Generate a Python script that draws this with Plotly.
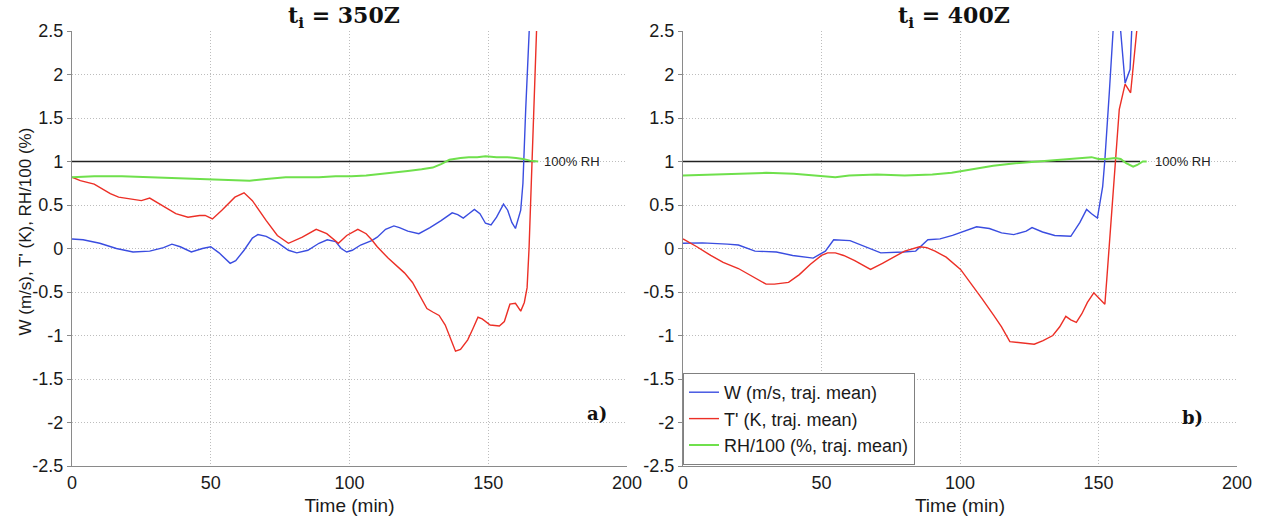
import plotly.graph_objects as go

# ---- panel a) t_i = 350Z ----
a_w_t = [0, 4, 10, 16, 22, 28, 33, 36, 39, 43, 47, 50, 53, 57, 59, 62, 65, 67, 70, 74,
         78, 81, 85, 89, 92, 95, 97, 99, 101, 104, 108, 110, 113, 116, 118, 121, 125, 129,
         133, 137, 139, 141, 143, 145, 147, 149, 151, 153, 155.5, 157, 158.5, 159.8, 161.7,
         162.5, 163.5, 164.8, 165.6]
a_w_v = [0.11, 0.10, 0.06, 0.0, -0.04, -0.03, 0.01, 0.05, 0.02, -0.04, 0.0, 0.02, -0.05,
         -0.17, -0.14, -0.02, 0.12, 0.16, 0.14, 0.07, -0.02, -0.05, -0.02, 0.06, 0.10, 0.08,
         0.0, -0.04, -0.02, 0.04, 0.09, 0.13, 0.22, 0.26, 0.24, 0.20, 0.17, 0.24, 0.32, 0.41,
         0.39, 0.35, 0.40, 0.45, 0.40, 0.29, 0.27, 0.36, 0.51, 0.44, 0.30, 0.23, 0.44,
         0.75, 1.6, 2.5, 3.1]

a_t_t = [0, 3, 8, 11, 13.8, 16.8, 21, 25, 28, 30.5, 33, 37.4, 41.8, 46, 48, 50.6, 54, 58.7,
         62, 65, 70, 74, 78, 83, 88, 91.8, 96, 99, 103, 106, 108, 110, 113.9, 119.8, 122.7,
         125.7, 127.9, 130, 132.3, 134.5, 136, 138.2, 140, 142.6, 144.5, 146.3, 147.8, 150.7,
         154, 155.8, 157.8, 159.8, 161.7, 163, 164, 164.7, 167.4, 168.1]
a_t_v = [0.82, 0.78, 0.74, 0.68, 0.63, 0.59, 0.57, 0.55, 0.58, 0.53, 0.48, 0.40, 0.36, 0.38,
         0.38, 0.34, 0.44, 0.59, 0.64, 0.55, 0.32, 0.15, 0.06, 0.13, 0.22, 0.17, 0.06, 0.15,
         0.22, 0.17, 0.10, 0.02, -0.11, -0.28, -0.39, -0.56, -0.69, -0.73, -0.77, -0.88,
         -1.01, -1.18, -1.16, -1.05, -0.92, -0.79, -0.81, -0.88, -0.89, -0.84, -0.64, -0.63,
         -0.72, -0.62, -0.45, 0.0, 2.5, 3.1]

a_rh_t = [0, 8, 18, 27, 36, 44, 50.6, 57, 64, 70, 77, 83, 89, 95, 100.7, 106, 112, 117,
          121, 126, 130, 133, 136, 140, 143, 146, 149, 153, 157, 160, 162.5, 165, 168]
a_rh_v = [0.82, 0.83, 0.83, 0.82, 0.81, 0.80, 0.80, 0.79, 0.78, 0.80, 0.82, 0.82, 0.82,
          0.83, 0.83, 0.84, 0.86, 0.87, 0.89, 0.91, 0.93, 0.97, 1.02, 1.04, 1.05, 1.05,
          1.06, 1.05, 1.05, 1.04, 1.03, 1.01, 1.0]

# ---- panel b) t_i = 400Z ----
b_w_t = [0, 7, 16, 20, 26, 33.7, 39.6, 47, 51.4, 54.4, 60.3, 66.2, 71.4, 79.5, 84, 88.4,
         92.8, 97.3, 101.7, 106, 110.6, 115, 119.4, 123.9, 126, 129.8, 134.2, 140, 143.3,
         145.7, 147.5, 149.6, 151.5, 152.3, 153.9, 155.3, 156.8, 158, 159.6, 161.4, 162,
         162.9]
b_w_v = [0.06, 0.065, 0.05, 0.04, -0.03, -0.04, -0.08, -0.11, -0.03, 0.10, 0.09, 0.02,
         -0.05, -0.04, -0.03, 0.10, 0.11, 0.15, 0.20, 0.25, 0.23, 0.18, 0.16, 0.20, 0.24,
         0.19, 0.15, 0.14, 0.30, 0.45, 0.40, 0.35, 0.71, 1.02, 1.79, 2.5, 3.3, 2.5, 1.90,
         2.06, 2.5, 3.2]

b_t_t = [0, 5, 10, 14.5, 20, 25, 30, 33, 38.1, 42, 46, 50, 52.2, 55, 58, 62, 65, 67.7, 72,
         76, 80, 85.4, 88, 91, 95, 100.2, 104, 108, 112, 115, 118, 122, 126.8, 130, 133.5,
         136, 138.2, 140, 142, 144, 146, 148.3, 150, 152.3, 153, 154.5, 156.3, 157.5, 159.6,
         161.6, 163.8, 164.5]
b_t_v = [0.11, 0.02, -0.08, -0.16, -0.23, -0.32, -0.41, -0.41, -0.39, -0.30, -0.18, -0.08,
         -0.05, -0.05, -0.08, -0.14, -0.19, -0.24, -0.17, -0.10, -0.03, 0.02, 0.01, -0.03,
         -0.10, -0.24, -0.40, -0.58, -0.76, -0.90, -1.07, -1.08, -1.10, -1.06, -1.0, -0.90,
         -0.78, -0.82, -0.85, -0.75, -0.62, -0.51, -0.57, -0.64, -0.35, 0.3, 1.02, 1.60, 1.89,
         1.79, 2.5, 2.95]

b_rh_t = [0, 10, 20, 30, 40, 50, 55, 60, 70, 80, 90, 97, 105, 112, 120, 128, 135, 142,
          147.5, 150, 153, 156, 158, 160, 162.5, 164, 166, 167.4]
b_rh_v = [0.84, 0.85, 0.86, 0.87, 0.86, 0.83, 0.82, 0.84, 0.85, 0.84, 0.85, 0.87, 0.91,
          0.95, 0.98, 1.0, 1.02, 1.04, 1.05, 1.03, 1.03, 1.04, 1.03, 0.98, 0.94, 0.96, 1.0,
          1.0]

# saturation reference line (100% RH) extents
a_ref_t = [0, 167]
b_ref_t = [0, 165]
ref_v = [1, 1]

y_ticks = [-2.5, -2, -1.5, -1, -0.5, 0, 0.5, 1, 1.5, 2, 2.5]
y_tick_text = ["-2.5", "-2", "-1.5", "-1", "-0.5", "0", "0.5", "1", "1.5", "2", "2.5"]
x_ticks = [0, 50, 100, 150, 200]

series_names = ["W (m/s, traj. mean)", "T' (K, traj. mean)", "RH/100 (%, traj. mean)"]
BLUE, RED, GREEN = "#3a4de0", "#ec2f26", "#6fe04c"

W, H = 1261, 520
def px_x(p):
    return p / W
def px_y(p):
    return 1 - p / H

fig = go.Figure()

panels = [
    ("x", "y", a_w_t, a_w_v, a_t_t, a_t_v, a_rh_t, a_rh_v, a_ref_t, False),
    ("x2", "y2", b_w_t, b_w_v, b_t_t, b_t_v, b_rh_t, b_rh_v, b_ref_t, True),
]
for xa, ya, wt, wv, tt, tv, rt, rv, reft, legend in panels:
    fig.add_trace(go.Scatter(x=reft, y=ref_v, mode="lines", xaxis=xa, yaxis=ya,
                             line=dict(color="#222222", width=1.3), showlegend=False,
                             hoverinfo="skip"))
    fig.add_trace(go.Scatter(x=wt, y=wv, mode="lines", name=series_names[0], xaxis=xa,
                             yaxis=ya, line=dict(color=BLUE, width=1.4), showlegend=legend))
    fig.add_trace(go.Scatter(x=tt, y=tv, mode="lines", name=series_names[1], xaxis=xa,
                             yaxis=ya, line=dict(color=RED, width=1.4), showlegend=legend))
    fig.add_trace(go.Scatter(x=rt, y=rv, mode="lines", name=series_names[2], xaxis=xa,
                             yaxis=ya, line=dict(color=GREEN, width=2), showlegend=legend))

SANS = "Liberation Sans, Arial, sans-serif"
TICK_FONT = dict(family=SANS, size=18, color="#1a1a1a")
XTITLE_FONT = dict(family=SANS, size=19, color="#1a1a1a")
axis_common = dict(showline=True, linecolor="#8a8a8a", linewidth=1.2, mirror=False,
                   showgrid=True, gridcolor="#bdbdbd", griddash="1px,2px", gridwidth=1,
                   zeroline=False, tickfont=TICK_FONT, automargin=False)

xcommon = dict(axis_common, range=[0, 200], tickmode="array", tickvals=x_ticks,
               ticks="", title=dict(text="Time (min)", font=XTITLE_FONT, standoff=6))
ycommon = dict(axis_common, range=[-2.5, 2.5], tickmode="array", tickvals=y_ticks,
               ticktext=y_tick_text, ticks="outside", ticklen=4, tickcolor="#8a8a8a")

fig.update_layout(
    width=W, height=H,
    margin=dict(l=0, r=0, t=0, b=0, autoexpand=False),
    paper_bgcolor="white", plot_bgcolor="white",
    xaxis=dict(xcommon, domain=[px_x(72), px_x(627)], anchor="y"),
    yaxis=dict(ycommon, domain=[px_y(466), px_y(31)], anchor="x"),
    xaxis2=dict(xcommon, domain=[px_x(683), px_x(1237)], anchor="y2"),
    yaxis2=dict(ycommon, domain=[px_y(466), px_y(31)], anchor="x2"),
    showlegend=True,
    legend=dict(x=px_x(683), y=px_y(465), xanchor="left", yanchor="bottom",
                bgcolor="white", bordercolor="#808080", borderwidth=1,
                font=dict(family=SANS, size=18, color="#1a1a1a"),
                tracegroupgap=0),
)

TITLE_FONT = dict(family="DejaVu Serif, serif", size=22, color="#111111")
ann = [
    dict(text="<b>t<sub>i</sub> = 350Z</b>", x=px_x(344), y=px_y(17)),
    dict(text="<b>t<sub>i</sub> = 400Z</b>", x=px_x(954), y=px_y(17)),
]
for a in ann:
    fig.add_annotation(xref="paper", yref="paper", showarrow=False, xanchor="center",
                       yanchor="middle", font=TITLE_FONT, **a)

LABEL_FONT = dict(family="DejaVu Serif, serif", size=18, color="#111111")
fig.add_annotation(text="<b>a)</b>", xref="paper", yref="paper", x=px_x(597), y=px_y(426),
                   showarrow=False, font=LABEL_FONT)
fig.add_annotation(text="<b>b)</b>", xref="paper", yref="paper", x=px_x(1205), y=px_y(430),
                   showarrow=False, font=LABEL_FONT)

RH_FONT = dict(family=SANS, size=13, color="#222222")
fig.add_annotation(text="100% RH", xref="x", yref="y", x=169.5, y=1, xanchor="left",
                   showarrow=False, font=RH_FONT)
fig.add_annotation(text="100% RH", xref="x2", yref="y2", x=169.5, y=1, xanchor="left",
                   showarrow=False, font=RH_FONT)

fig.add_annotation(text="W (m/s), T' (K), RH/100 (%)", xref="paper", yref="paper",
                   x=px_x(14), y=px_y(232), textangle=-90, showarrow=False,
                   font=dict(family=SANS, size=17, color="#1a1a1a"))

fig.write_html("out.html")
